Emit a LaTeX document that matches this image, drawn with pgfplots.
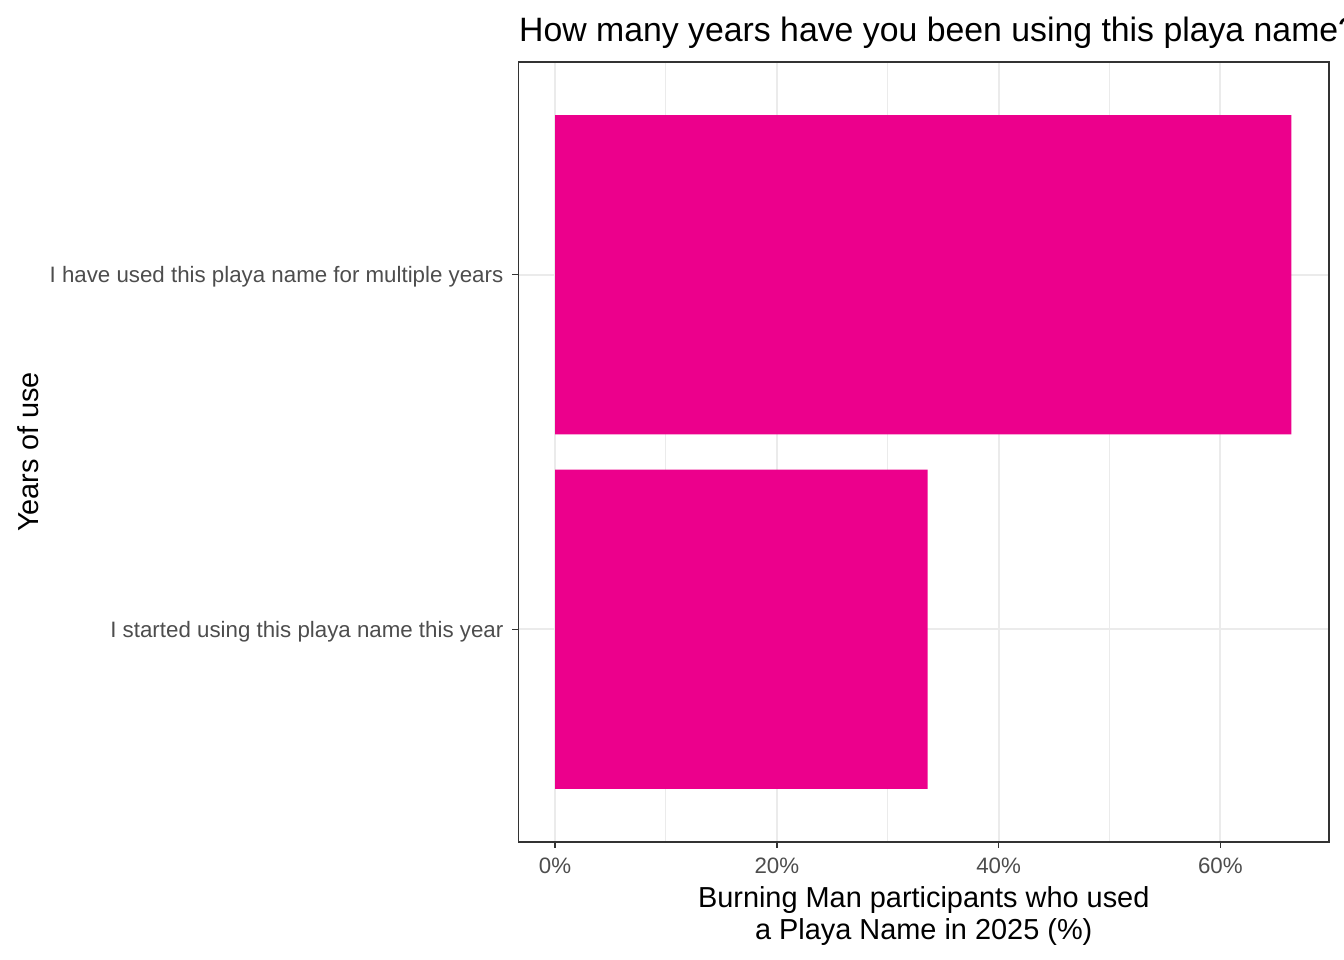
\documentclass[border=0pt]{standalone}
\usepackage{fontspec}
\setmainfont{Liberation Sans}
\usepackage{pgfplots}
\pgfplotsset{compat=1.18}
\definecolor{barc}{HTML}{EC008C}
\definecolor{gridc}{HTML}{EBEBEB}
\definecolor{axc}{HTML}{333333}
\definecolor{tickc}{HTML}{4D4D4D}
\begin{document}
\begin{tikzpicture}[x=1pt,y=1pt]
\useasboundingbox (0,0) rectangle (1344,960);
\begin{axis}[
  at={(518.5pt,118pt)}, anchor=south west,
  scale only axis, width=810.5pt, height=780pt,
  xmin=-3.3, xmax=69.8, ymin=0.4, ymax=2.6,
  xbar, bar width=0.9,
  xtick={0,20,40,60}, minor xtick={10,30,50},
  xticklabels={0\%,20\%,40\%,60\%},
  ytick={1,2},
  yticklabels={I started using this playa name this year,I have used this playa name for multiple years},
  xmajorgrids, xminorgrids, ymajorgrids,
  major grid style={gridc, line width=1.9pt},
  minor grid style={gridc, line width=0.95pt},
  axis line style={axc, line width=1.5pt},
  tick align=outside, major tick length=6pt, minor tick length=0pt,
  major tick style={axc, line width=1.5pt},
  xtick pos=lower, ytick pos=left,
  ticklabel style={font=\fontsize{22.3}{26}\selectfont, text=tickc},
  xticklabel style={anchor=north, inner sep=0pt, text height=16pt, text depth=0pt, yshift=-9pt},
  yticklabel style={anchor=east, inner sep=0pt, text height=16pt, text depth=0pt, xshift=-9pt},
  xlabel={Burning Man participants who used\\a Playa Name in 2025 (\%)},
  xlabel style={font=\fontsize{28.9}{32.5}\selectfont, align=center, at={(axis description cs:0.5,0)}, anchor=north, inner sep=0pt, yshift=-44pt},
]
\addplot[fill=barc, draw=none] coordinates {(33.6,1) (66.4,2)};
\end{axis}
\node[anchor=base west, inner sep=0pt, font=\fontsize{33.8}{40}\selectfont] at (519,918) {How many years have you been using this playa name?};
\node[anchor=base, rotate=90, inner sep=0pt, font=\fontsize{28.9}{32}\selectfont] at (39,508) {Years of use};
\end{tikzpicture}
\end{document}
